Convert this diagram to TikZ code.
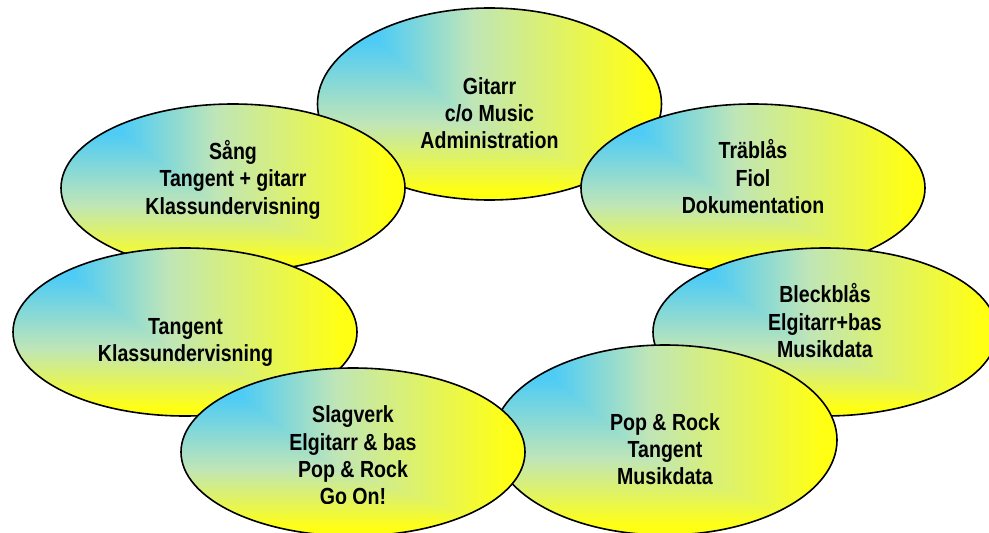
\documentclass[tikz,border=0pt]{standalone}
\usepackage{fontspec}
\setmainfont{Liberation Sans}[FakeStretch=0.84]
\usetikzlibrary{shapes.geometric}
\pgfdeclarefunctionalshading{cornerfade}{\pgfpoint{0bp}{0bp}}{\pgfpoint{100bp}{100bp}}{}{
dup 45 gt {66 exch sub 60 div} {45 exch sub 26.92 div 0.35 add} ifelse
exch dup 47.5 lt {34 sub 38.57 div} {47.5 sub 38.46 div 0.35 add} ifelse
2 copy lt {exch} if pop
dup 0 lt {pop 0} if
dup 1 gt {pop 1} if
dup 0.35 lt
{ 0.35 div dup dup 0.44 mul 0.31 add 3 1 roll 0.10 mul 0.80 add exch -0.24 mul 0.96 add }
{ 0.35 sub 0.65 div dup dup 0.25 mul 0.75 add 3 1 roll 0.10 mul 0.90 add exch -0.64 mul 0.72 add }
ifelse
}
\tikzset{
  bubble/.style={ellipse, draw=black, line width=1.6pt, shade, shading=cornerfade,
    inner sep=0pt, minimum width=344pt, minimum height=168pt},
  tall/.style={minimum height=192pt},
  label text/.style={anchor=north, align=center, inner sep=0pt,
    font=\fontsize{23.3}{27.3}\selectfont\bfseries}
}
\newcommand{\firstline}{\rule{0pt}{20pt}}
\begin{document}
\begin{tikzpicture}[x=1pt,y=-1pt]
\useasboundingbox (0,0) rectangle (989,533);
% top
\node[bubble, tall] (gitarr) at (489.5,104) {};
\node[label text] (gitarrtext) at (489.5,74) {\firstline Gitarr\\c/o Music\\Administration};
% upper left
\node[bubble] (sang) at (233,188) {};
\node[label text] (sangtext) at (233,139.3) {\firstline Sång\\Tangent + gitarr\\Klassundervisning};
% upper right
\node[bubble] (trablas) at (753,188) {};
\node[label text] (trablastext) at (753,138.7) {\firstline Träblås\\Fiol\\Dokumentation};
% middle left
\node[bubble] (tangent) at (185,332) {};
\node[label text] (tangenttext) at (185.5,314.3) {\firstline Tangent\\Klassundervisning};
% middle right
\node[bubble] (bleck) at (825,332) {};
\node[label text] (blecktext) at (825,282.7) {\firstline Bleckblås\\Elgitarr+bas\\Musikdata};
% bottom right
\node[bubble, minimum height=190pt] (pop) at (665,440) {};
\node[label text] (poptext) at (665,410) {\firstline Pop \& Rock\\Tangent\\Musikdata};
% bottom left
\node[bubble] (slagverk) at (353,452) {};
\begin{scope}
\clip (0,0) rectangle (989,503);
\node[label text] (slagverktext) at (353,402.7) {\firstline Slagverk\\Elgitarr \& bas\\Pop \& Rock\\Go On!};
\end{scope}
\end{tikzpicture}
\end{document}
